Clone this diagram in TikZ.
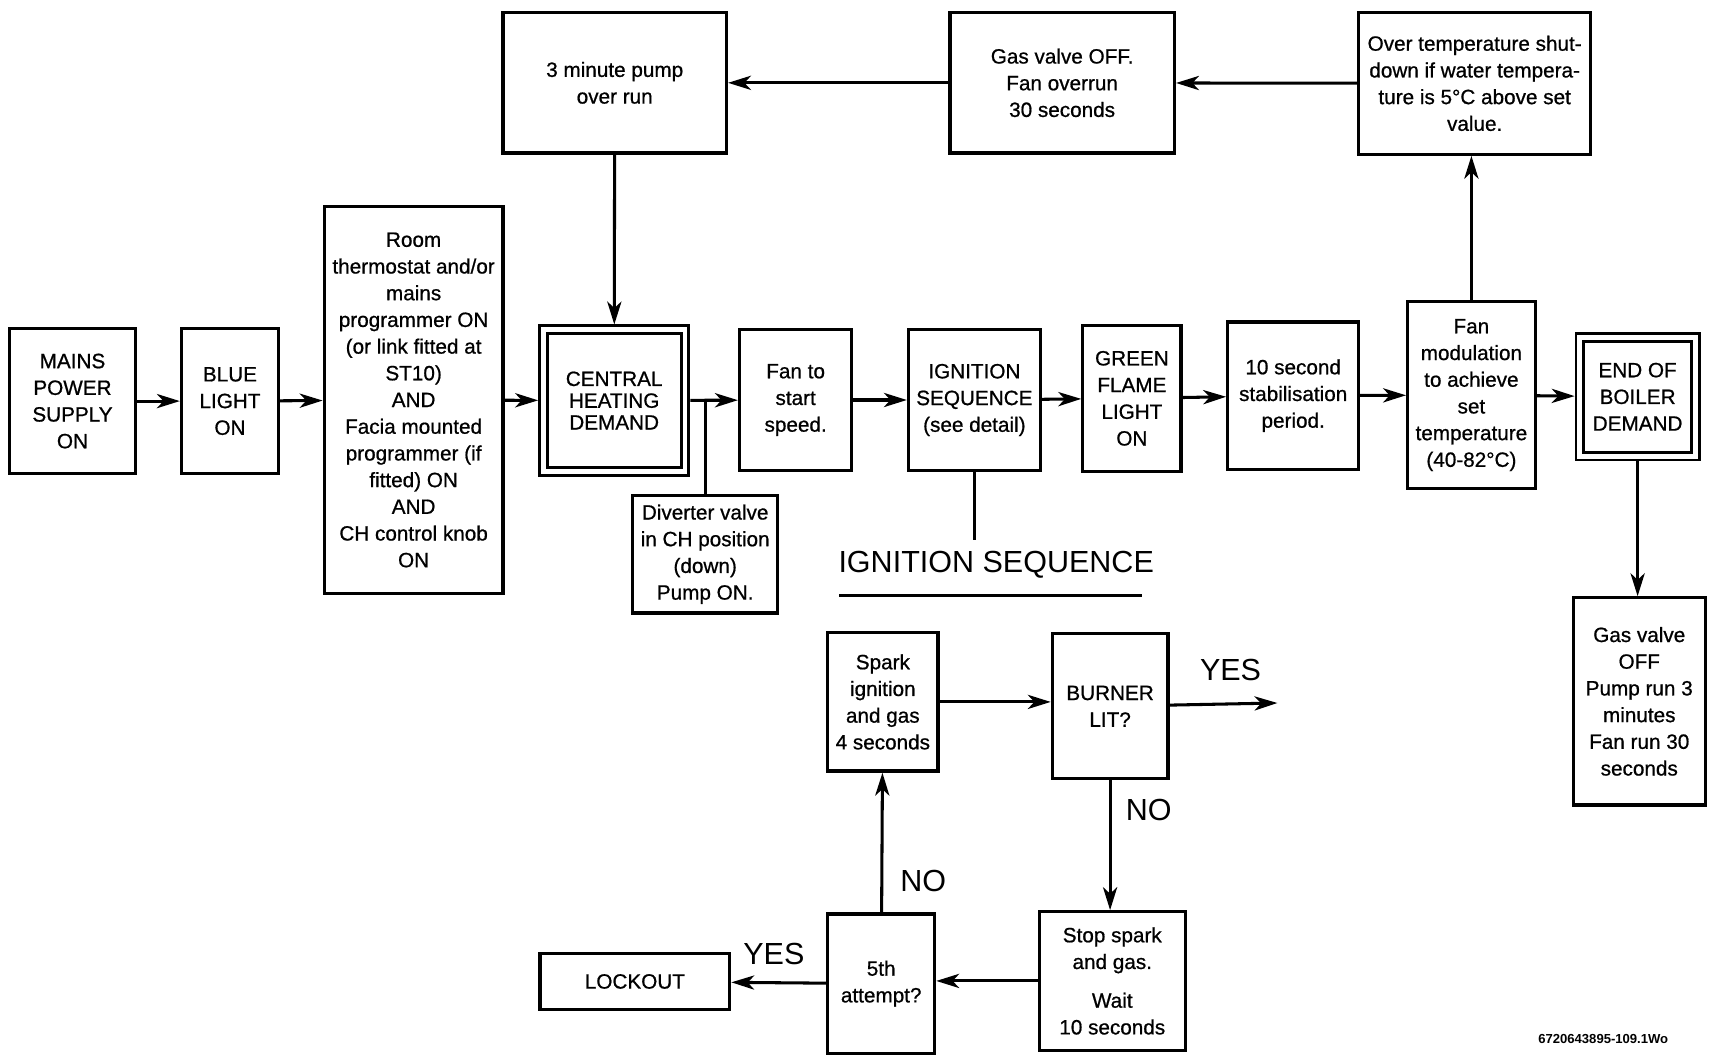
\documentclass[tikz,border=0pt]{standalone}
\usepackage{fontspec}
\setmainfont{Liberation Sans}
\newfontfamily\boxfont[FakeBold=0.8]{Liberation Sans}
\usetikzlibrary{arrows.meta, positioning}

\begin{document}
\begin{tikzpicture}[
    x=1pt, y=-1pt,
    box/.style = {rectangle, draw=black, line width=3pt, inner sep=0pt, align=center,
                  font=\boxfont\fontsize{19}{24.5}\selectfont},
    dbox/.style = {box, double, double distance=4.5pt, line width=2.6pt, outer sep=4.8pt},
    arrow/.style = {line width=2.8pt, ->, >={Stealth[length=21pt,width=13pt,inset=6pt]}},
    link/.style = {line width=2.8pt},
    tag/.style = {font=\fontsize{28}{28}\selectfont, inner sep=0pt}
]
    \useasboundingbox (0,0) rectangle (1568,976);

    % Main row
    \node[box, minimum width=116, minimum height=133] (mains) at (66.5,368) {MAINS\\POWER\\SUPPLY\\ON};
    \node[box, minimum width=89, minimum height=133] (blue) at (211,368) {BLUE\\LIGHT\\ON};
    \node[box, minimum width=164, minimum height=355] (room) at (379.5,367) {Room\\thermostat and/or\\mains\\programmer ON\\(or link fitted at\\ST10)\\AND\\Facia mounted\\programmer (if\\fitted) ON\\AND\\CH control knob\\ON};
    \node[dbox, minimum width=130, minimum height=130, font=\boxfont\fontsize{19}{20}\selectfont] (chd) at (563.5,367.5) {CENTRAL\\HEATING\\DEMAND};
    \node[box, minimum width=103, minimum height=129] (fan) at (730,367) {Fan to\\start\\speed.};
    \node[box, minimum width=121, minimum height=129] (ign) at (894,367) {IGNITION\\SEQUENCE\\(see detail)};
    \node[box, minimum width=90, minimum height=134] (green) at (1038.5,365.5) {GREEN\\FLAME\\LIGHT\\ON};
    \node[box, minimum width=120, minimum height=135] (stab) at (1186.5,363) {10 second\\stabilisation\\period.};
    \node[box, minimum width=117, minimum height=172] (fanmod) at (1350,362.5) {Fan\\modulation\\to achieve\\set\\temperature\\(40-82°C)};
    \node[dbox, minimum width=106, minimum height=109] (endb) at (1502.5,364) {END OF\\BOILER\\DEMAND};

    % Side boxes
    \node[box, minimum width=133, minimum height=108] (diverter) at (647,508.5) {Diverter valve\\in CH position\\(down)\\Pump ON.};
    \node[box, minimum width=121, minimum height=190] (gasoff) at (1504,643.5) {Gas valve\\OFF\\Pump run 3\\minutes\\Fan run 30\\seconds};

    % Top row
    \node[box, minimum width=205, minimum height=129] (pump) at (564,76) {3 minute pump\\over run};
    \node[box, minimum width=206, minimum height=129] (gasfan) at (974.5,76) {Gas valve OFF.\\Fan overrun\\30 seconds};
    \node[box, minimum width=213, minimum height=130] (overtemp) at (1353,76.5) {Over temperature shut-\\down if water tempera-\\ture is 5°C above set\\value.};

    % Ignition sequence detail
    \node[tag] (igntitle) at (914,518) {IGNITION SEQUENCE};
    \coordinate (ulstart) at (770,546);
    \coordinate (ulend) at (1048,546);
    \coordinate (igntail) at (894,495);

    \node[box, minimum width=101, minimum height=127] (spark) at (810,644) {Spark\\ignition\\and gas\\4 seconds};
    \node[box, minimum width=106, minimum height=133] (burner) at (1018.5,648) {BURNER\\LIT?};
    \node[box, minimum width=134, minimum height=127] (stop) at (1020.5,900) {Stop spark\\and gas.\\[11pt]Wait\\10 seconds};
    \node[box, minimum width=98, minimum height=128] (fifth) at (808.5,902.5) {5th\\attempt?};
    \node[box, minimum width=174, minimum height=52] (lockout) at (582.5,900.5) {LOCKOUT};
    \coordinate (yesend) at (1172,645);

    % Decision labels
    \node[tag] (yesburner) at (1129,615) {YES};
    \node[tag] (noburner) at (1054,743) {NO};
    \node[tag] (yesfifth) at (710,875) {YES};
    \node[tag] (nofifth) at (847,808) {NO};

    \node[font=\bfseries\fontsize{12}{12}\selectfont] (docref) at (1471,953) {6720643895-109.1Wo};

    % Main flow arrows
    \draw[arrow] (mains) -- (blue);
    \draw[arrow] (blue) -- (room);
    \draw[arrow] (room) -- (chd);
    \draw[arrow] (chd) -- (fan);
    \draw[link] (diverter.north) -- (diverter.north |- chd.east);
    \draw[arrow] (fan) -- (ign);
    \draw[arrow] (ign) -- (green);
    \draw[arrow] (green) -- (stab);
    \draw[arrow] (stab) -- (fanmod);
    \draw[arrow] (fanmod) -- (endb);
    \draw[arrow] (endb.south) -- (endb.south |- gasoff.north);

    % Over temperature loop
    \draw[arrow] (fanmod.north) -- (fanmod.north |- overtemp.south);
    \draw[arrow] (overtemp) -- (gasfan);
    \draw[arrow] (gasfan) -- (pump);
    \draw[arrow] (pump) -- (chd);

    % Ignition detail
    \draw[link] (ign) -- (igntail);
    \draw[link] (ulstart) -- (ulend);
    \draw[arrow] (spark.east) -- (spark.east -| burner.west);
    \draw[arrow] (burner) -- (yesend);
    \draw[arrow] (burner.south) -- (burner.south |- stop.north);
    \draw[arrow] (stop.west) -- (stop.west -| fifth.east);
    \draw[arrow] (fifth) -- (lockout);
    \draw[arrow] (fifth) -- (spark);

\end{tikzpicture}
\end{document}
